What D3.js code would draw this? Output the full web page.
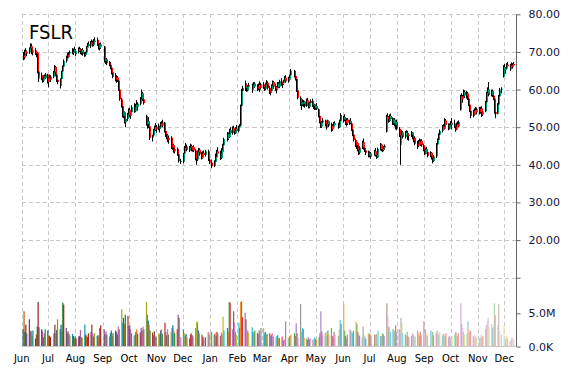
<!DOCTYPE html>
<html>
<head>
<meta charset="utf-8">
<script src="https://cdn.jsdelivr.net/npm/d3@7"></script>
<style>
  body { margin: 0; background: #fff; }
  svg { display: block; }
  .grid line { stroke: #c8c8c8; stroke-dasharray: 4,3; shape-rendering: crispEdges; }
  .axis text { font-family: "DejaVu Sans", Verdana, sans-serif; font-size: 11px; fill: #15153f; }
  .month { font-family: "DejaVu Sans", Verdana, sans-serif; font-size: 10px; fill: #000; }
</style>
</head>
<body>
<script>
// daily candles [open, high, low, close], one array per month
const jun14 = [[68.5,69.8,67.8,69.0],[69.0,70.0,68.2,68.4],[68.4,70.6,68.0,70.2],[70.2,71.0,69.3,69.6],[69.6,70.4,68.9,70.0],
  [70.0,71.2,69.5,71.0],[71.0,72.3,70.4,71.5],[71.5,72.2,70.2,70.5],[70.5,71.3,69.4,69.8],[69.8,70.8,69.1,70.4],
  [70.4,71.0,69.2,69.6],[69.6,70.2,68.6,69.8],[69.8,69.9,64.3,64.8],[64.8,65.2,62.4,63.0],[63.0,64.2,62.0,63.8],
  [63.8,64.5,62.5,62.9],[62.9,63.6,61.8,62.4],[62.4,63.8,62.0,63.5],[63.5,64.0,62.6,63.0],[63.0,64.4,62.8,64.0],[64.0,64.2,61.6,62.0]];
const jul14 = [[62.0,63.5,60.6,63.0],[63.0,64.0,62.2,62.6],[62.6,63.8,62.0,63.4],
  [63.4,65.0,63.0,64.6],[64.6,66.5,64.2,66.0],[66.0,66.3,63.5,64.0],[64.0,64.2,62.0,62.6],[62.6,63.2,61.4,62.0],
  [62.0,62.6,60.3,61.0],[61.0,63.0,60.8,62.8],[62.8,65.0,62.5,64.8],[64.8,66.4,64.0,66.1],[66.1,68.0,65.8,67.6],
  [67.6,69.0,67.2,68.4],[68.4,69.7,67.9,69.2],[69.2,69.8,68.2,68.6],[68.6,70.0,68.3,69.6],[69.6,70.4,69.0,70.0],
  [70.0,71.0,69.4,69.8],[69.8,70.9,69.2,70.6],[70.6,71.4,69.8,70.2],[70.2,70.8,69.0,69.5]];
const aug14 = [[69.5,70.6,69.0,70.2],
  [70.2,71.2,69.6,70.8],[70.8,71.4,70.0,70.4],[70.4,71.0,69.4,69.8],[69.8,70.8,69.2,70.5],[70.5,71.0,69.0,69.4],
  [69.4,70.0,68.7,69.2],[69.2,70.1,68.8,69.9],[69.9,71.6,69.6,71.3],[71.3,72.4,70.8,72.0],[72.0,72.8,71.2,71.6],
  [71.6,72.9,71.0,72.6],[72.6,73.3,71.8,72.2],[72.2,73.0,71.4,71.8],[71.8,73.4,71.5,73.0],[73.0,73.9,72.2,72.6],
  [72.6,73.8,72.0,73.2],[73.2,73.5,71.6,72.0],[72.0,72.6,70.6,71.0],[71.0,72.4,70.4,72.0],[72.0,72.5,70.8,71.4]];
const sep14 = [[71.4,71.6,68.6,69.0],[69.0,69.4,67.2,67.6],[67.6,68.6,66.8,68.0],[68.0,68.4,66.5,67.0],
  [67.0,67.6,66.2,66.6],[66.6,67.3,65.4,65.8],[65.8,66.2,64.0,64.4],[64.4,65.0,63.3,64.6],[64.6,64.9,63.0,63.4],
  [63.4,64.4,62.2,62.6],[62.6,63.8,61.8,63.2],[63.2,63.6,62.0,62.4],[62.4,62.6,59.6,60.0],[60.0,60.4,57.0,57.4],
  [57.4,57.8,55.2,55.6],[55.6,56.0,52.6,53.0],[53.0,54.6,52.4,54.0],[54.0,54.2,51.0,51.4],[51.4,52.6,50.0,52.2],
  [52.2,53.8,51.6,53.4],[53.4,55.0,52.8,54.6]];
const oct14 = [[54.6,55.2,52.6,53.0],[53.0,54.4,52.2,54.0],[54.0,55.8,53.6,55.4],
  [55.4,56.4,54.6,55.0],[55.0,55.6,53.8,54.2],[54.2,56.2,54.0,56.0],[56.0,57.2,55.0,55.4],[55.4,56.6,54.4,56.2],
  [56.2,58.0,55.8,57.4],[57.4,58.4,56.6,58.0],[58.0,60.0,57.2,59.0],[59.0,59.4,57.0,57.4],[57.4,58.0,56.0,56.4],
  [53.0,53.3,50.4,50.8],[50.8,52.0,49.6,51.6],[51.6,52.7,49.8,50.2],[50.2,50.8,48.0,48.6],[48.6,49.4,46.6,47.2],
  [47.2,48.0,46.2,47.8],[47.8,49.6,47.4,49.2],[49.2,50.4,48.6,50.0],[50.0,51.1,49.0,49.4],[49.4,50.6,48.5,50.2]];
const nov14 = [[50.2,51.0,49.2,49.6],[49.6,50.4,48.6,50.0],[50.0,51.4,49.6,51.0],[51.0,51.6,50.0,50.4],[50.4,52.0,50.0,51.2],
  [51.2,51.4,48.6,49.0],[49.0,49.4,47.4,48.0],[48.0,48.6,46.8,47.2],[47.2,48.2,46.0,46.6],[46.6,47.8,45.6,47.2],
  [47.2,47.6,45.3,45.8],[45.8,46.4,44.2,44.6],[44.6,45.8,44.0,45.2],[45.2,45.6,43.2,43.6],[43.6,44.8,43.0,44.2],
  [44.2,44.6,42.4,42.8],[42.8,43.4,41.6,42.0],[42.0,42.4,40.6,41.0],[41.0,41.6,40.2,40.8]];
const dec14 = [[40.8,43.2,40.4,43.0],[43.0,45.0,42.8,44.6],[44.6,45.8,44.0,44.4],[44.4,45.2,43.6,44.8],[44.8,45.4,43.8,44.0],
  [44.0,45.0,43.4,44.6],[44.6,45.6,43.8,45.0],[45.0,45.4,43.6,43.9],[43.9,45.0,43.5,44.7],[44.7,45.2,43.4,43.8],
  [43.8,44.2,41.2,41.6],[41.6,42.0,40.0,41.4],[41.4,43.8,41.0,43.4],[43.4,44.5,42.8,44.0],[44.0,44.4,42.4,42.8],
  [42.8,43.4,41.4,41.8],[41.8,43.6,41.6,43.2],[43.2,43.8,42.4,42.6],[42.6,44.0,42.2,43.6],
  [43.6,44.0,42.0,42.4],[42.4,42.8,41.0,41.4],[41.4,42.0,40.2,40.6]];
const jan15 = [[40.6,41.4,39.1,39.6],
  [39.6,41.2,39.4,40.8],[40.8,42.6,40.4,42.2],[42.2,43.0,41.6,42.0],[42.0,44.0,41.8,43.6],[43.6,44.7,42.8,43.0],
  [43.0,43.8,41.3,41.8],[41.8,44.4,41.5,44.0],[44.0,44.6,42.8,43.4],[43.4,45.6,43.0,45.2],[45.2,47.2,44.8,46.8],
  [46.8,48.7,46.2,48.2],[48.2,48.6,46.6,47.4],[47.4,49.6,47.1,49.2],[49.2,50.0,48.0,48.4],
  [48.4,50.2,48.0,49.8],[49.8,50.4,48.6,49.0],[49.0,49.6,48.0,48.4],[48.4,50.0,48.2,49.6],[49.6,50.6,48.6,49.0]];
const feb15 = [[49.0,50.4,48.6,50.0],[50.0,50.8,49.4,50.4],[50.4,56.0,50.2,55.6],[55.6,60.2,55.0,59.6],[59.6,61.0,58.8,60.4],
  [60.4,62.0,59.6,61.4],[61.4,62.4,60.2,60.8],[60.8,61.6,59.4,59.8],[59.8,61.2,59.5,60.8],[60.8,61.8,60.0,61.2],
  [61.2,61.6,59.6,60.0],[60.0,61.0,59.1,60.6],[60.6,62.0,60.2,61.6],[61.6,62.0,60.4,60.8],
  [60.8,61.4,59.6,60.2],[60.2,61.6,59.8,61.2],[61.2,62.2,60.4,60.6],[60.6,61.0,59.4,60.4],[60.4,61.8,60.0,61.4]];
const mar15 = [[61.4,62.0,60.2,60.6],[60.6,61.2,59.6,60.2],[60.2,61.8,59.8,61.4],[61.4,62.5,60.8,61.8],[61.8,62.2,60.0,60.4],
  [60.4,61.0,58.8,59.2],[59.2,60.0,58.5,59.6],[59.6,61.4,59.2,61.0],[61.0,62.4,60.4,62.0],[62.0,62.3,60.2,60.8],
  [60.8,61.6,59.6,60.0],[60.0,61.0,59.0,60.6],[60.6,62.0,60.0,61.6],[61.6,62.0,60.4,60.8],[60.8,62.6,60.4,62.2],
  [62.2,63.0,61.0,61.4],[61.4,62.0,60.4,61.8],[61.8,62.6,61.2,62.4],[62.4,63.6,62.0,63.2],[63.2,63.8,61.8,62.2],
  [62.2,63.4,61.8,63.0],[63.0,63.6,62.2,62.6]];
const apr15 = [[62.6,64.0,62.2,63.8],[63.8,65.5,63.4,65.0],
  [65.0,65.2,63.2,63.6],[63.6,64.2,62.4,62.8],[62.8,63.4,61.0,61.4],[61.4,61.8,59.4,59.8],[59.8,60.2,57.4,57.8],
  [57.8,58.2,55.6,56.0],[56.0,57.0,54.6,56.6],[56.6,57.4,55.6,56.2],[56.2,57.2,55.4,56.8],[56.8,57.0,55.2,55.6],
  [55.6,57.6,55.4,57.2],[57.2,57.8,56.0,56.4],[56.4,57.0,55.0,55.4],[55.4,56.8,55.0,56.4],[56.4,57.4,55.8,57.0],
  [57.0,57.6,55.4,55.8],[55.8,56.4,54.8,56.0],[56.0,56.2,54.6,55.0],[55.0,56.0,54.6,55.6]];
const may15 = [[55.6,56.4,54.6,54.8],
  [54.8,55.0,52.6,53.0],[53.0,53.3,51.0,51.4],[51.4,52.0,49.8,50.2],[50.2,51.6,49.8,51.2],[51.2,52.4,50.6,51.8],
  [51.8,52.0,50.2,50.6],[50.6,51.4,49.4,49.8],[49.8,51.2,49.4,50.8],[50.8,52.0,50.4,51.6],[51.6,51.8,50.0,50.4],
  [50.4,51.2,48.8,49.4],[49.4,50.8,49.0,50.4],[50.4,51.0,49.6,50.0],[50.0,51.4,49.8,51.0],[51.0,51.6,50.2,50.6],
  [50.6,51.2,49.6,50.0],[50.0,52.0,49.8,51.6],[51.6,53.7,51.2,53.2],[53.2,53.6,51.6,52.0]];
const jun15 = [[52.0,53.0,51.2,52.6],[52.6,53.4,51.6,52.0],[52.0,52.6,50.6,51.0],[51.0,52.4,50.2,52.0],[52.0,52.4,50.6,51.2],
  [51.2,52.0,50.6,51.6],[51.6,52.4,50.8,51.0],[51.0,51.4,49.0,49.4],[49.4,49.8,47.6,48.0],[48.0,48.4,46.2,46.6],
  [46.6,47.0,44.7,45.2],[45.2,46.2,44.2,45.8],[45.8,46.0,43.6,44.0],[44.0,44.6,42.6,43.2],[43.2,45.0,42.8,44.6],
  [44.6,46.4,44.2,46.0],[46.0,47.0,45.0,45.4],[45.4,46.0,44.0,44.4],[44.4,45.2,43.4,43.8],[43.8,44.5,42.6,43.2],
  [43.2,43.8,42.0,42.4],[42.4,43.6,42.0,43.0]];
const jul15 = [[43.0,43.4,41.8,42.2],[42.2,43.0,41.6,42.6],
  [42.6,44.0,42.4,43.6],[43.6,44.5,42.2,42.6],[42.6,43.0,41.6,42.0],[42.0,43.4,41.8,43.0],[43.0,44.6,42.8,44.2],
  [44.2,45.8,43.8,45.4],[45.4,45.6,43.6,44.0],[44.0,44.6,43.4,44.2],[44.2,45.0,43.6,44.6],[44.6,45.4,44.0,45.0],
  [48.8,53.3,48.6,52.8],[52.8,53.7,51.6,52.2],[52.2,53.0,51.2,51.6],[51.6,53.4,51.4,53.0],[53.0,53.6,51.8,52.2],
  [52.2,52.6,50.6,51.0],[51.0,52.4,50.6,52.0],[52.0,52.4,50.2,50.6],[50.6,51.8,49.4,51.4],[51.4,52.0,49.2,49.6]];
const aug15 = [[49.6,50.0,47.4,47.8],[47.8,48.2,45.0,45.4],[45.4,48.4,40.0,47.8],[47.8,49.2,46.6,48.6],[48.6,49.0,47.0,47.4],
  [47.4,49.0,47.0,48.6],[48.6,49.2,47.4,47.8],[47.8,48.6,46.6,48.2],[48.2,49.0,47.2,47.6],[47.6,48.4,46.4,48.0],
  [48.0,49.0,47.4,48.6],[48.6,48.7,46.8,47.2],[47.2,48.0,46.0,46.4],[46.4,47.6,45.8,47.2],[47.2,47.4,45.2,45.6],
  [45.6,46.4,44.2,45.0],[45.0,46.6,44.7,46.2],[46.2,47.0,45.0,45.4],[45.4,46.8,45.0,46.4],[46.4,46.8,44.8,45.2],
  [45.2,45.6,43.6,44.0]];
const sep15 = [[44.0,44.4,42.6,43.0],[43.0,44.6,42.8,44.2],[44.2,44.8,43.0,43.4],[43.4,43.8,42.0,42.4],
  [42.4,43.6,42.0,43.2],[43.2,43.4,41.4,41.8],[41.8,42.2,40.4,41.0],[41.0,42.6,40.8,42.2],
  [42.2,44.0,41.8,43.6],[43.6,45.8,43.4,45.4],[45.4,47.0,45.0,46.6],[46.6,48.4,46.2,48.0],[48.0,49.4,47.4,49.0],
  [49.0,50.6,48.6,50.2],[50.2,50.8,49.2,49.6],[49.6,51.4,49.4,51.0],[51.0,52.4,50.4,51.8],[51.8,52.2,50.2,50.6],
  [50.6,51.0,49.2,49.6],[49.6,51.0,49.4,50.6],[50.6,51.6,49.8,51.2]];
const oct15 = [[51.2,52.4,50.2,50.6],[50.6,51.4,49.4,51.0],
  [51.0,52.0,49.8,50.2],[50.2,50.8,48.8,49.4],[49.4,51.2,49.2,50.8],[50.8,51.6,49.8,50.2],[50.2,51.8,50.0,51.4],
  [54.6,58.6,54.4,58.2],[58.2,59.0,56.8,57.4],[57.4,58.6,56.5,58.2],[58.2,60.0,57.6,59.4],[59.4,59.8,57.8,58.4],
  [58.4,59.6,57.6,59.0],[59.0,59.4,57.2,57.6],[57.6,58.0,55.6,56.0],[56.0,56.4,54.0,54.4],[54.4,55.0,52.4,53.0],
  [53.0,54.6,52.6,54.2],[54.2,54.6,52.8,53.2],[53.2,55.0,53.0,54.6],[54.6,55.4,53.6,54.0],[54.0,55.2,53.4,54.8]];
const nov15 = [[54.8,55.4,53.4,54.0],[54.0,55.4,53.6,55.0],[55.0,55.6,53.8,54.2],[54.2,55.2,52.7,53.4],[53.4,54.6,53.0,54.2],
  [54.2,57.0,54.0,56.6],[56.6,59.4,56.4,59.0],[59.0,60.6,58.4,60.0],[60.0,62.0,59.0,59.4],[59.4,60.2,58.2,58.6],
  [58.6,60.0,58.2,59.6],[59.6,60.0,58.0,58.4],[58.4,59.0,57.2,57.6],[57.6,57.8,53.6,54.0],[54.0,54.6,52.4,53.6],
  [53.6,56.4,53.4,56.0],[56.0,58.6,55.6,58.2],[58.2,60.4,57.8,60.0],[60.0,60.6,59.0,60.2],[63.4,66.5,63.2,66.0]];
const dec15 = [[66.0,66.8,64.6,65.2],[65.2,66.0,64.2,65.6],[65.6,67.0,65.2,66.6],[66.6,67.3,65.8,66.2],
  [66.2,66.6,65.0,65.4],[65.4,66.8,65.2,66.4],[66.4,67.2,65.6,66.0],[66.0,67.0,65.6,66.8],[66.8,67.3,66.0,66.4]];

// daily volume in millions of shares, one array per month
const volJun14 = [2.6,5.3,2.2,3.3,2.0,4.1,2.4,2.3,1.6,2.4,1.2,1.8,3.0,6.7,2.9,2.6,2.3,1.4,2.0,2.6,2.4];
const volJul14 = [1.7,1.6,1.4,2.0,3.3,2.0,2.5,4.1,2.6,3.3,2.2,6.6,6.3,2.8,2.1,2.3,1.9,1.6,1.9,1.6,1.2,1.5];
const volAug14 = [1.2,1.5,1.6,2.5,1.4,1.3,3.3,1.8,1.6,1.4,2.0,2.2,3.3,1.9,1.5,2.0,1.6,1.7,1.4,2.8,3.2];
const volSep14 = [2.6,1.9,2.3,1.8,1.5,2.0,2.4,1.6,2.0,2.4,2.2,1.8,3.0,2.6,5.6,3.6,4.3,3.4,4.8,4.6,3.1];
const volOct14 = [3.2,2.6,2.0,1.6,1.8,2.2,2.6,1.9,2.1,2.8,2.4,3.0,2.6,6.7,4.8,3.9,3.3,2.4,2.1,1.7,2.3,1.6,1.4];
const volNov14 = [2.0,1.8,2.4,2.6,1.9,3.6,2.2,1.7,2.6,1.8,2.2,2.8,3.2,2.4,2.0,2.6,4.8,4.3,1.4];
const volDec14 = [2.6,2.0,1.6,1.9,1.4,1.2,1.8,2.0,1.7,1.5,2.8,3.8,3.6,2.4,2.0,1.8,1.5,1.2,1.4,2.2,1.8,2.1];
const volJan15 = [2.2,1.8,2.0,1.6,2.2,1.9,1.6,2.1,1.8,4.5,2.4,2.8,2.2,6.7,6.6,2.6,5.3,3.6,2.2,1.8];
const volFeb15 = [3.6,2.8,6.7,6.8,4.4,5.1,4.1,2.6,2.3,2.0,2.9,2.2,1.8,2.4,2.0,1.8,2.4,1.6,2.8];
const volMar15 = [2.8,2.0,2.2,1.8,1.9,2.0,1.6,1.8,2.0,1.5,1.4,1.6,1.7,1.2,1.3,1.5,1.0,0.9,1.1,3.8,1.4,1.2];
const volApr15 = [1.6,1.8,2.0,1.6,3.5,2.0,1.4,6.4,2.2,2.8,2.6,1.3,1.2,1.0,1.4,1.1,1.2,1.0,1.2,1.4,1.1];
const volMay15 = [1.0,1.4,2.0,5.3,2.3,1.8,2.0,2.2,1.6,2.4,1.8,2.8,1.6,1.4,2.2,1.8,1.6,2.6,4.0,3.4];
const volJun15 = [6.5,2.4,1.6,1.2,1.8,2.6,2.4,2.2,2.0,2.4,3.8,3.4,2.2,1.8,1.6,1.4,3.0,1.8,1.5,1.2,1.9,2.0];
const volJul15 = [1.8,1.6,1.8,1.7,1.9,1.8,2.4,1.6,1.5,2.0,1.8,1.6,6.5,4.5,3.0,2.8,2.2,2.6,1.9,2.4,3.2,2.2];
const volAug15 = [2.6,2.2,4.3,3.6,2.0,1.8,1.6,2.2,1.5,1.4,1.6,2.0,1.8,1.2,1.5,2.4,2.0,1.6,2.2,1.8,3.8];
const volSep15 = [2.0,2.6,1.8,1.6,2.4,1.8,2.2,1.7,2.0,2.4,2.0,1.8,2.2,1.6,1.9,1.8,1.5,2.0,1.4,1.6,1.3];
const volOct15 = [1.4,1.6,1.8,2.2,2.0,1.6,2.0,6.5,3.4,2.8,2.2,1.8,2.0,3.8,2.6,2.2,2.4,1.6,1.4,1.7,1.5,1.2];
const volNov15 = [1.2,1.4,1.8,1.3,1.6,2.6,3.2,3.8,4.3,3.0,3.4,2.8,3.0,6.5,4.8,3.2,6.4,2.4,1.8,3.2];
const volDec15 = [1.4,1.0,1.6,1.2,0.8,1.0,1.4,1.2,1.0];

const holidays = ["2014-07-04","2014-09-01","2014-11-27","2014-12-25","2015-01-01","2015-01-19",
  "2015-02-16","2015-04-03","2015-05-25","2015-07-03","2015-09-07","2015-11-26"];
const priceTicks = [10, 20, 30, 40, 50, 60, 70, 80];
const volTicks = [0, 5e6];

const months = [
  [2014, 5, jun14, volJun14], [2014, 6, jul14, volJul14], [2014, 7, aug14, volAug14], [2014, 8, sep14, volSep14],
  [2014, 9, oct14, volOct14], [2014, 10, nov14, volNov14], [2014, 11, dec14, volDec14], [2015, 0, jan15, volJan15],
  [2015, 1, feb15, volFeb15], [2015, 2, mar15, volMar15], [2015, 3, apr15, volApr15], [2015, 4, may15, volMay15],
  [2015, 5, jun15, volJun15], [2015, 6, jul15, volJul15], [2015, 7, aug15, volAug15], [2015, 8, sep15, volSep15],
  [2015, 9, oct15, volOct15], [2015, 10, nov15, volNov15], [2015, 11, dec15, volDec15]
];

const fmtDay = d3.timeFormat("%Y-%m-%d");
let data = [];
months.forEach(([yr, mo, candles, vols]) => {
  const days = d3.timeDay.range(new Date(yr, mo, 1), new Date(yr, mo + 1, 1))
    .filter(d => d.getDay() > 0 && d.getDay() < 6 && holidays.indexOf(fmtDay(d)) < 0);
  candles.forEach((c, i) => {
    data.push({ date: days[i], o: c[0], h: c[1], l: c[2], c: c[3], v: vols[i] * 1e6 });
  });
});

const w = 570, h = 370;
const plotLeft = 21.5, plotRight = 516.5, plotTop = 14.3, plotBottom = 346.5;

const svg = d3.select("body").append("svg").attr("width", w).attr("height", h);

const x = d3.scaleTime()
  .domain([new Date(2014, 5, 1), new Date(2015, 11, 1)])
  .range([21.7, 504.3]);
const y = d3.scaleLinear().domain([10, 80]).range([277.7, 14.3]);
const yv = d3.scaleLinear().domain([0, 5e6]).range([346.5, 313.3]);

const monthStarts = d3.timeMonth.range(new Date(2014, 5, 1), new Date(2015, 11, 2));

// grid
const grid = svg.append("g").attr("class", "grid");
grid.selectAll(".h").data(priceTicks).enter().append("line")
  .attr("x1", plotLeft).attr("x2", plotRight)
  .attr("y1", d => Math.round(y(d)) + 0.5).attr("y2", d => Math.round(y(d)) + 0.5);
grid.selectAll(".v").data(monthStarts).enter().append("line")
  .attr("x1", d => Math.round(x(d)) + 0.5).attr("x2", d => Math.round(x(d)) + 0.5)
  .attr("y1", plotTop).attr("y2", plotBottom + 3);

// volume bars
const palette = d3.schemeCategory10;
const n = data.length;
const shade = d3.scaleLinear().domain([0, 0.4, 1]).range([0.9, 0, -0.65]);
function volColor(i) {
  const base = d3.color(palette[i % 10]);
  const s = shade(i / n);
  return s > 0 ? base.darker(s).formatHex() : d3.interpolateRgb(base, "#ffffff")(-s);
}
svg.append("g").selectAll("rect").data(data).enter().append("rect")
  .attr("x", d => x(d.date))
  .attr("width", 1.2)
  .attr("y", d => yv(d.v))
  .attr("height", d => yv(0) - yv(d.v))
  .attr("fill", (d, i) => volColor(i));

// candles
const candles = svg.append("g");
candles.selectAll(".wick").data(data).enter().append("rect")
  .attr("x", d => Math.round(x(d.date)))
  .attr("width", 1)
  .attr("y", d => y(d.h))
  .attr("height", d => y(d.l) - y(d.h))
  .attr("fill", "#000");
candles.selectAll(".body").data(data).enter().append("rect")
  .attr("x", d => Math.round(x(d.date)) + 1)
  .attr("width", 1)
  .attr("y", d => y(Math.max(d.o, d.c)))
  .attr("height", d => Math.max(1, Math.abs(y(d.o) - y(d.c))))
  .attr("fill", d => d.c >= d.o ? "#00a06e" : "#ff0000");

// bottom line and month labels
svg.append("line")
  .attr("x1", plotLeft).attr("x2", plotRight).attr("y1", plotBottom).attr("y2", plotBottom)
  .attr("stroke", "#c8c8c8");
svg.selectAll(".month").data(monthStarts).enter().append("text")
  .attr("class", "month")
  .attr("x", d => x(d)).attr("y", 361.5)
  .attr("text-anchor", "middle")
  .text(d3.timeFormat("%b"));

// right axes
svg.append("line")
  .attr("x1", plotRight).attr("x2", plotRight).attr("y1", plotTop).attr("y2", plotBottom)
  .attr("stroke", "#666");
const yAxis = d3.axisRight(y).tickValues(priceTicks).tickSize(4).tickPadding(8)
  .tickFormat(d => d === 10 ? "" : d.toFixed(2));
svg.append("g").attr("class", "axis").attr("transform", "translate(" + plotRight + ",0)")
  .call(yAxis).call(g => g.select(".domain").remove());
const vAxis = d3.axisRight(yv).tickValues(volTicks).tickSize(4).tickPadding(8)
  .tickFormat(d => d === 0 ? "0.0K" : (d / 1e6).toFixed(1) + "M");
svg.append("g").attr("class", "axis").attr("transform", "translate(" + plotRight + ",0)")
  .call(vAxis).call(g => g.select(".domain").remove());
svg.selectAll(".axis .tick line").attr("stroke", "#666");

// title
svg.append("text")
  .attr("x", 29).attr("y", 39)
  .style("font-family", "'DejaVu Sans Condensed', 'DejaVu Sans', sans-serif")
  .style("font-size", "20px")
  .text("FSLR");
</script>
</body>
</html>
